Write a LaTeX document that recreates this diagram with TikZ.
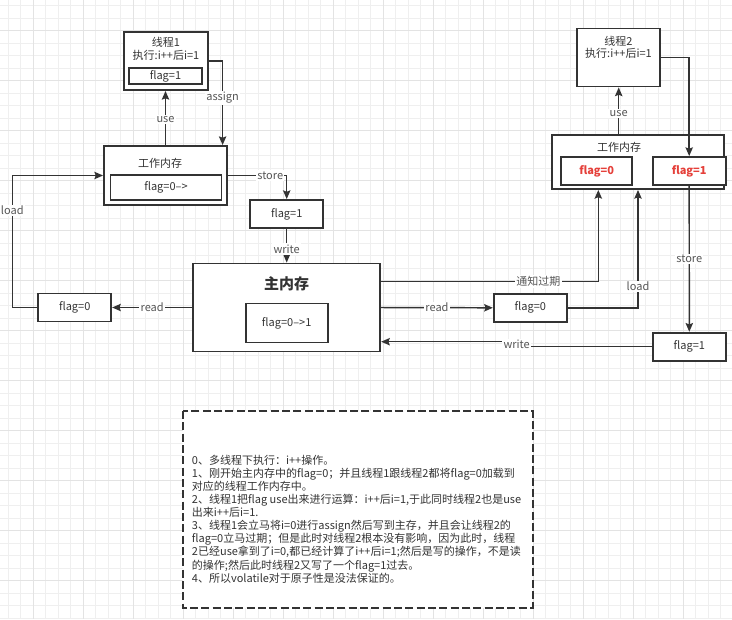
\documentclass[tikz,border=0pt]{standalone}
\usepackage{fontspec}
\setmainfont{Noto Sans CJK SC}
\usetikzlibrary{arrows.meta}
\definecolor{gridminor}{HTML}{EFEFEF}
\definecolor{gridmajor}{HTML}{E3E3E3}
\definecolor{ink}{HTML}{333333}
\definecolor{lbltext}{HTML}{555555}
\definecolor{redtext}{HTML}{E5403A}
\newcommand\pxu{0.75pt}
\begin{document}
\begin{tikzpicture}[x=0.75pt,y=-0.75pt,
  box/.style={draw=ink, line width=1.4pt, fill=white, inner sep=0pt},
  txt/.style={text=ink, font=\fontsize{8.25pt}{9.9pt}\selectfont, inner sep=0pt},
  redtxt/.style={text=redtext, font=\fontsize{8.25pt}{9.9pt}\selectfont\bfseries, inner sep=0pt},
  lbl/.style={fill=white, text=lbltext, font=\fontsize{8.25pt}{9.9pt}\selectfont, inner sep=1pt},
  arr/.style={draw=ink, line width=1.1pt, -{Stealth[length=6.5pt,width=5.5pt,inset=1pt]}},
  gminor/.style={draw=gridminor, line width=0.6pt},
  gmajor/.style={draw=gridmajor, line width=0.6pt}
]
\useasboundingbox (0,0) rectangle (732,619);
\fill[white] (0,0) rectangle (732,619);
% grid
\foreach \i in {0,...,57} { \draw[gminor] ({8.3+12.5*\i},0) -- ({8.3+12.5*\i},619); }
\foreach \i in {0,...,49} { \draw[gminor] (0,{5.7+12.5*\i}) -- (732,{5.7+12.5*\i}); }
\foreach \i in {2,6,...,54} { \draw[gmajor] ({8.3+12.5*\i},0) -- ({8.3+12.5*\i},619); }
\foreach \i in {2,6,...,46} { \draw[gmajor] (0,{5.7+12.5*\i}) -- (732,{5.7+12.5*\i}); }

% ---------- left side ----------
\node[box, minimum width=84*\pxu, minimum height=58*\pxu] (t1) at (166,61) {};
\node[txt] (t1a) at (166,42) {线程1};
\node[txt] (t1b) at (166,55) {执行:i++后i=1};
\node[box, txt, minimum width=73*\pxu, minimum height=16*\pxu] (t1f) at (165.5,76) {flag=1};

\node[box, minimum width=123*\pxu, minimum height=59*\pxu] (wm1) at (165.5,175.5) {};
\node[txt] (wm1t) at (160,163.5) {工作内存};
\node[box, txt, minimum width=111*\pxu, minimum height=25*\pxu] (wm1f) at (166,187.5) {flag=0–>};

\node[box, txt, minimum width=73*\pxu, minimum height=28*\pxu] (mf1) at (286.7,214) {flag=1};

\node[box, minimum width=187*\pxu, minimum height=88*\pxu] (mm) at (286.7,307.5) {};
\node[txt, font=\fontsize{11.25pt}{13pt}\selectfont\bfseries] (mmt) at (286.7,284) {主内存};
\node[box, txt, minimum width=82*\pxu, minimum height=39*\pxu] (mmf) at (286.7,323) {flag=0–>1};

\node[box, txt, minimum width=73*\pxu, minimum height=28*\pxu] (lf0) at (74.7,307.5) {flag=0};

% ---------- right side ----------
\node[box, minimum width=83*\pxu, minimum height=58*\pxu] (t2) at (618.7,57.5) {};
\node[txt] (t2a) at (618.5,41) {线程2};
\node[txt] (t2b) at (618.5,53.5) {执行:i++后i=1};

\node[box, minimum width=172*\pxu, minimum height=54*\pxu] (wm2) at (638,162) {};
\node[txt] (wm2t) at (619,147.7) {工作内存};
\node[box, redtxt, minimum width=71*\pxu, minimum height=28*\pxu] (wm2f0) at (596.7,171) {flag=0};
\node[box, redtxt, minimum width=73*\pxu, minimum height=28*\pxu] (wm2f1) at (689.2,171) {flag=1};

\node[box, txt, minimum width=73*\pxu, minimum height=28*\pxu] (rf0) at (530.3,307.8) {flag=0};
\node[box, txt, minimum width=73*\pxu, minimum height=28*\pxu] (rf1) at (689.3,346.7) {flag=1};

% ---------- connectors left ----------
\draw[arr] (wm1.north) -- node[lbl, pos=0.48] {use} (wm1.north |- t1.south);
\draw[arr] (t1.east) -| node[lbl, pos=0.72] {assign} ([xshift=-4pt]wm1.north east);
\draw[arr] (wm1.east) -| node[lbl, pos=0.36] {store} (mf1.north);
\draw[arr] (mf1.south) -- node[lbl, pos=0.6] {write} (mm.north);
\draw[arr] (mm.west) -- node[lbl] {read} (lf0.east);
\draw[arr] (lf0.west) -- ++(-25,0) |- node[lbl, pos=0.367] {load} (wm1.west);

% ---------- connectors right ----------
\draw[arr] (t2.south |- wm2.north) -- node[lbl, pos=0.45] {use} (t2.south);
\draw[arr] (t2.east) -| (wm2f1.north);
\coordinate (n1) at (598.3,281.7);
\draw[arr] (mm.east |- n1) -| node[lbl, pos=0.362] {通知过期} (n1 |- wm2.south);
\draw[arr] (mm.east) -- node[lbl] {read} (rf0.west);
\draw[arr] (rf0.east) -| node[lbl, pos=0.59] {load} (wm2.south);
\draw[arr] (wm2f1.south) -- node[lbl] {store} (rf1.north);
\coordinate (w1) at (516.7,346.7);
\coordinate (w2) at (516.7,341.7);
\draw[arr] (rf1.west) -- (w1) -- (w2) -- (mm.east |- w2);
\node[lbl] (wl) at (516.7,344.2) {write};

% ---------- note ----------
\draw[draw=ink, line width=1.4pt, fill=white, dash pattern=on 6pt off 2.5pt] (182.7,411) rectangle (532.7,607.7);
\node[txt, anchor=north west, align=left, font=\fontsize{8.25pt}{9.85pt}\selectfont] (note) at (191.7,454.5) {%
0、多线程下执行：i++操作。\\
1、刚开始主内存中的flag=0；并且线程1跟线程2都将flag=0加载到\\
对应的线程工作内存中。\\
2、线程1把flag use出来进行运算：i++后i=1,于此同时线程2也是use\\
出来i++后i=1.\\
3、线程1会立马将i=0进行assign然后写到主存，并且会让线程2的\\
flag=0立马过期；但是此时对线程2根本没有影响，因为此时，线程\\
2已经use拿到了i=0,都已经计算了i++后i=1;然后是写的操作，不是读\\
的操作;然后此时线程2又写了一个flag=1过去。\\
4、所以volatile对于原子性是没法保证的。};
\end{tikzpicture}
\end{document}
